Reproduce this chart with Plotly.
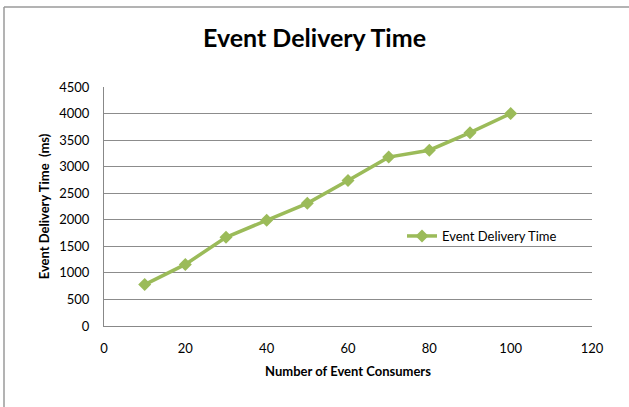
import plotly.graph_objects as go

consumers = [10, 20, 30, 40, 50, 60, 70, 80, 90, 100]
delivery_ms = [780, 1160, 1670, 1990, 2310, 2740, 3180, 3310, 3640, 4000]
series_name = "Event Delivery Time"

W, H = 629, 407
ML, MR, MT, MB = 104, 37, 87, 81
pw, ph = W - ML - MR, H - MT - MB

def px_x(p):
    return (p - ML) / pw

def px_y(p):
    return 1 - (p - MT) / ph

FONT = "Lato, 'Open Sans', sans-serif"
GREEN = "#9BBB59"

fig = go.Figure()
fig.add_trace(go.Scatter(
    x=consumers, y=delivery_ms, name=series_name, mode="lines+markers",
    line=dict(color=GREEN, width=3.5),
    marker=dict(symbol="diamond", size=10, color=GREEN),
    showlegend=True,
))

fig.update_layout(
    width=W, height=H,
    margin=dict(l=ML, r=MR, t=MT, b=MB),
    paper_bgcolor="white", plot_bgcolor="white",
    font=dict(family=FONT, size=13, color="#000"),
    title=dict(text="<b>Event Delivery Time</b>", x=0.5, xanchor="center",
               y=1 - 38 / H, yanchor="middle",
               font=dict(family=FONT, size=25, color="#000")),
    showlegend=True,
    legend=dict(x=px_x(402), y=px_y(236), xanchor="left", yanchor="middle",
                bgcolor="rgba(0,0,0,0)", font=dict(family=FONT, size=13),
                itemwidth=30),
    xaxis=dict(range=[0, 120], tickvals=[0, 20, 40, 60, 80, 100, 120],
               showgrid=False, zeroline=False, showline=True,
               linecolor="#888", linewidth=1, ticks="", ticklen=0,
               ticklabelstandoff=10,
               tickfont=dict(family=FONT, size=13),
               title=dict(text="<b>Number of Event Consumers</b>",
                          font=dict(family=FONT, size=13), standoff=12)),
    yaxis=dict(range=[0, 4500], tickvals=list(range(0, 4501, 500)),
               showgrid=True, gridcolor="#8c8c8c", gridwidth=1,
               zeroline=False, showline=True, linecolor="#888", linewidth=1,
               ticks="", ticklabelstandoff=11,
               tickfont=dict(family=FONT, size=13),
               title=dict(text="<b>Event Delivery Time  (ms)</b>",
                          font=dict(family=FONT, size=13), standoff=6)),
    shapes=[
        dict(type="line", xref="paper", yref="paper",
             x0=px_x(4), x1=px_x(4), y0=px_y(7), y1=px_y(H + 5),
             line=dict(color="#9a9a9a", width=1.5)),
        dict(type="line", xref="paper", yref="paper",
             x0=px_x(4), x1=px_x(W + 5), y0=px_y(7), y1=px_y(7),
             line=dict(color="#9a9a9a", width=1.5)),
    ],
)

fig.write_html("out.html", config={"displayModeBar": False},
               post_script="document.body.style.margin='0';")
